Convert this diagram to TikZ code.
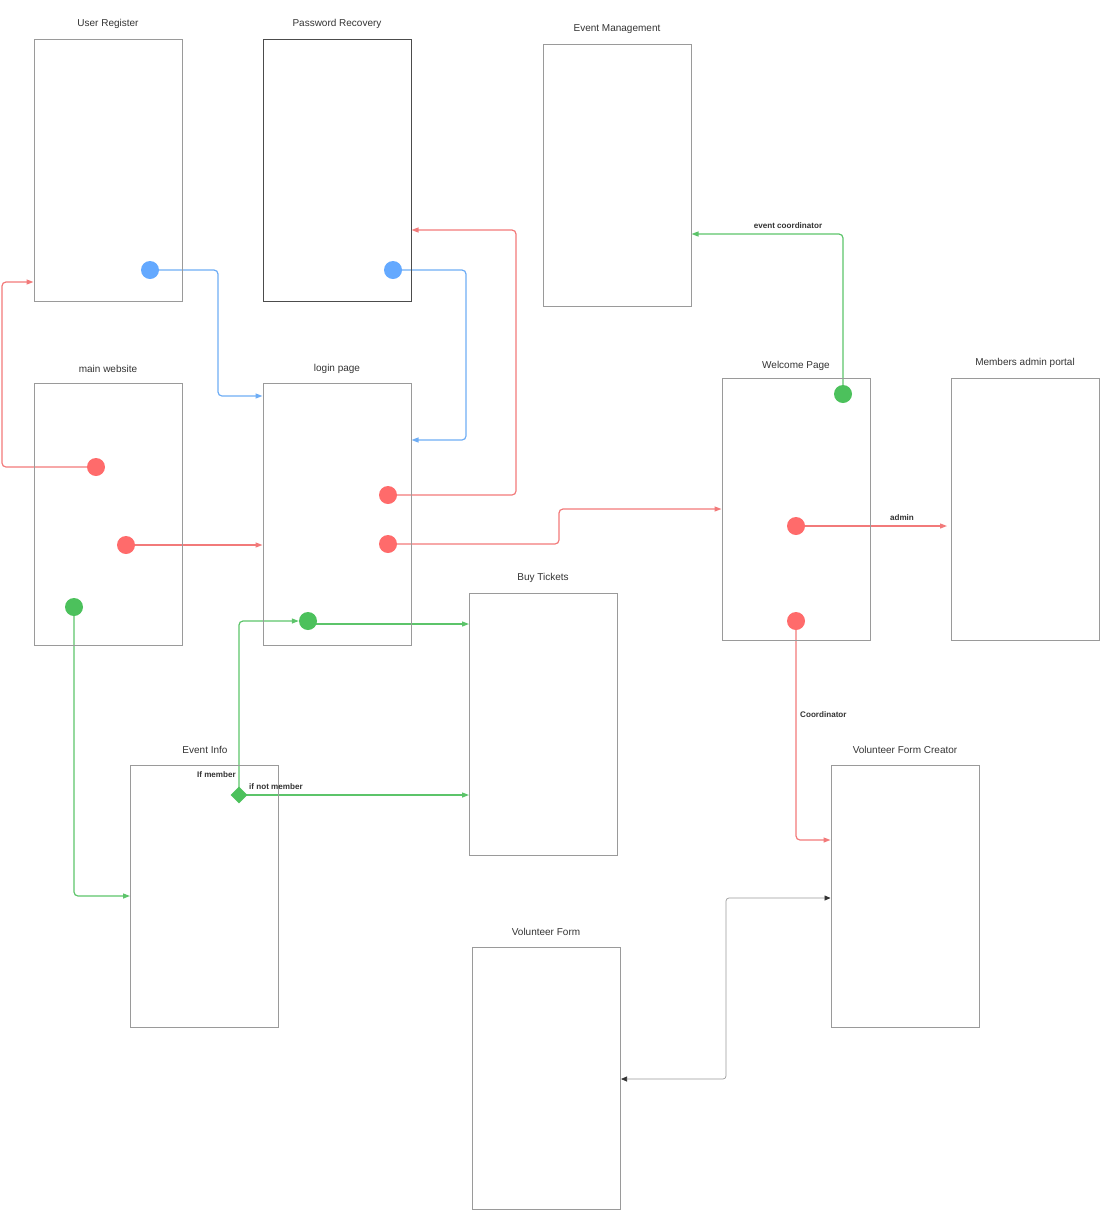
\documentclass[tikz,border=0pt]{standalone}
\usepackage{fontspec}
\setmainfont{Liberation Sans}
\usetikzlibrary{arrows.meta,shapes.geometric,backgrounds}
\definecolor{cred}{HTML}{FF6B6B}
\definecolor{lred}{HTML}{F27A7A}
\definecolor{cblue}{HTML}{64A9FF}
\definecolor{lblue}{HTML}{6EADF5}
\definecolor{cgreen}{HTML}{4CC15C}
\definecolor{lgreen}{HTML}{5CC46A}
\definecolor{boxgray}{HTML}{9A9A9A}
\definecolor{txt}{HTML}{333333}
\tikzset{
  screen/.style={draw=boxgray,line width=1pt,minimum width=148pt,minimum height=262pt,inner sep=0pt},
  title/.style={font=\fontsize{10}{12}\selectfont,text=txt,inner sep=0pt},
  elabel/.style={font=\bfseries\fontsize{8.1}{9}\selectfont,text=txt,inner sep=0pt},
  dotnode/.style={circle,minimum size=18pt,inner sep=0pt,draw=none},
  conn/.style={line width=1.2pt,rounded corners=4pt,-{Triangle[length=7pt,width=5pt]}},
  rline/.style={conn,draw=lred},
  bline/.style={conn,draw=lblue},
  gline/.style={conn,draw=lgreen},
  kline/.style={line width=0.7pt,draw=boxgray,rounded corners=3pt,{Triangle[length=6pt,width=5pt,color=txt]}-{Triangle[length=6pt,width=5pt,color=txt]}}
}
\begin{document}
\begin{tikzpicture}[x=1pt,y=-1pt]
\useasboundingbox (0,0) rectangle (1109,1219);
% screens
\node[screen] (ur) at (108,170) {};
\node[screen,draw=black!70] (pr) at (337,170) {};
\node[screen] (em) at (617,175) {};
\node[screen] (mw) at (108,514) {};
\node[screen] (lp) at (337,514) {};
\node[screen] (wp) at (796,509) {};
\node[screen] (ma) at (1025,509) {};
\node[screen] (bt) at (543.5,724.5) {};
\node[screen] (ei) at (204.5,896) {};
\node[screen] (vfc) at (905,896) {};
\node[screen] (vf) at (546.5,1078) {};
% titles
\node[title] (urT) at (108,24) {User Register};
\node[title] (prT) at (337,24) {Password Recovery};
\node[title] (emT) at (617,29) {Event Management};
\node[title] (mwT) at (108,369) {main website};
\node[title] (lpT) at (337,369) {login page};
\node[title] (wpT) at (796,366) {Welcome Page};
\node[title] (maT) at (1025,363) {Members admin portal};
\node[title] (btT) at (543,578) {Buy Tickets};
\node[title] (eiT) at (205,750) {Event Info};
\node[title] (vfcT) at (905,750) {Volunteer Form Creator};
\node[title] (vfT) at (546,932) {Volunteer Form};
% dots
\node[dotnode,fill=cblue] (b1) at (150,270) {};
\node[dotnode,fill=cblue] (b2) at (393,270) {};
\node[dotnode,fill=cred] (r1) at (96,467) {};
\node[dotnode,fill=cred] (r2) at (126,545) {};
\node[dotnode,fill=cgreen] (g1) at (74,607) {};
\node[dotnode,fill=cred] (r3) at (388,495) {};
\node[dotnode,fill=cred] (r4) at (388,544) {};
\node[dotnode,fill=cgreen] (g2) at (308,621) {};
\node[dotnode,fill=cgreen] (g3) at (843,394) {};
\node[dotnode,fill=cred] (r5) at (796,526) {};
\node[dotnode,fill=cred] (r6) at (796,621) {};
\node[diamond,fill=cgreen,minimum size=17pt,inner sep=0pt] (dia) at (239,795) {};
% edge labels
\node[elabel,anchor=east] (lm) at (236,775) {If member};
\node[elabel,anchor=west] (lnm) at (249,787) {if not member};
\node[elabel] (lec) at (788,226) {event coordinator};
\node[elabel] (lad) at (902,518) {admin};
\node[elabel,anchor=west] (lco) at (800,715) {Coordinator};
\begin{pgfonlayer}{background}
\draw[bline] (b1.center) -- (218,270) |- (lp.west |- 0,396);
\draw[bline] (b2.center) -- (466,270) |- (lp.east |- 0,440);
\draw[rline] (r1.center) -- (2,467) |- (ur.west |- 0,282);
\draw[rline] (r2.center) -- (lp.west |- r2);
\draw[gline] (g1.center) |- (ei.west |- 0,896);
\draw[rline] (r3.center) -- (516,495) |- (pr.east |- 0,230);
\draw[rline] (r4.center) -- (559,544) |- (wp.west |- 0,509);
\draw[gline] (g2.center |- 0,624) -- (bt.west |- 0,624);
\draw[gline] (dia.center) |- (g2.west);
\draw[gline] (dia.center) -- (bt.west |- dia);
\draw[gline] (g3.center) |- (em.east |- 0,234);
\draw[rline] (r5.center) -- (947,526);
\draw[rline] (r6.center) |- (vfc.west |- 0,840);
\draw[kline] (vf.east |- 0,1079) -- (726,1079) |- (vfc.west |- 0,898);
\end{pgfonlayer}
\end{tikzpicture}
\end{document}
